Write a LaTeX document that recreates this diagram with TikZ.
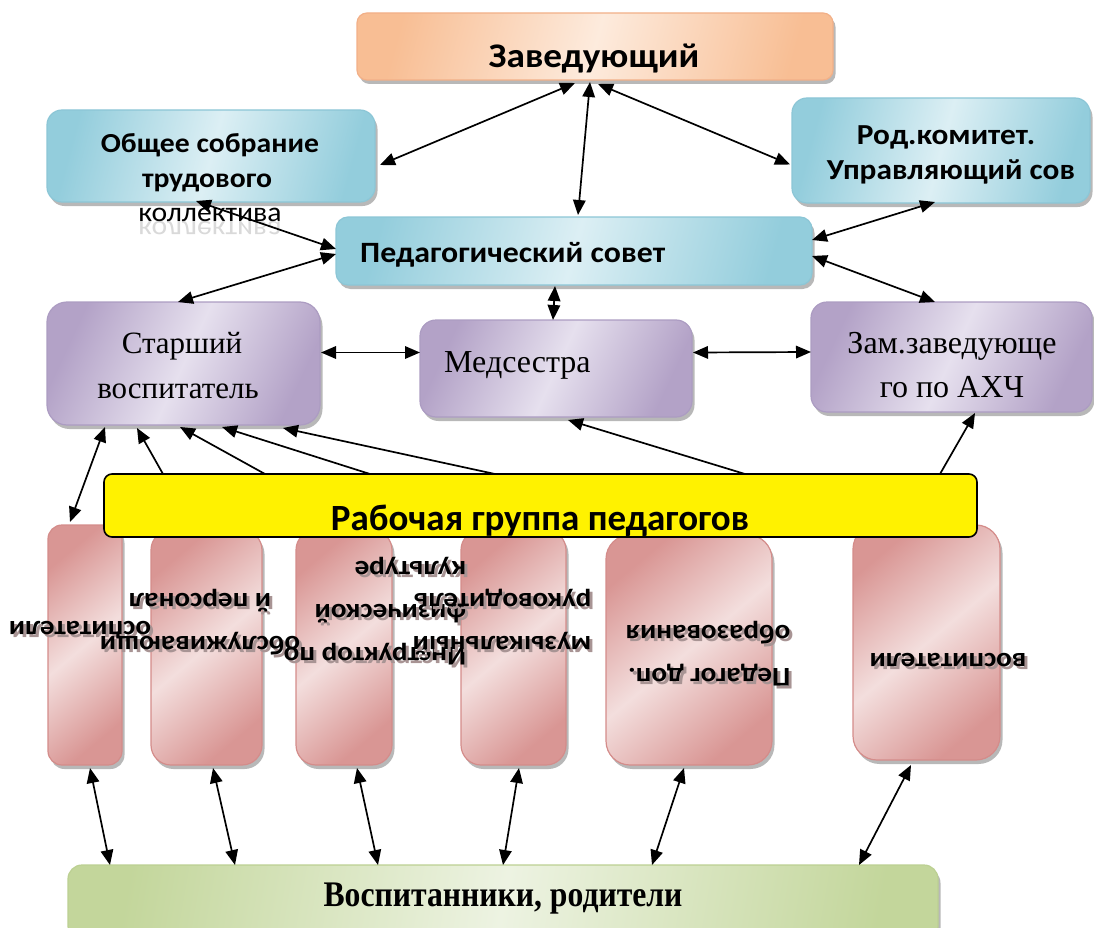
\documentclass[tikz,border=0pt]{standalone}
\usepackage{fontspec}
\setmainfont{Liberation Serif}
\newfontfamily\calw[FakeStretch=1.08]{Carlito}
\newfontfamily\calplain{Carlito}
\newfontfamily\serifc[FakeStretch=0.88]{Liberation Serif}
\usetikzlibrary{arrows.meta,shadows,calc}
\definecolor{orD}{HTML}{F8BE94}
\definecolor{orL}{HTML}{FDEBDD}
\definecolor{orB}{HTML}{F2B088}
\definecolor{blD}{HTML}{93CDDC}
\definecolor{blL}{HTML}{DCEFF4}
\definecolor{blB}{HTML}{8CC6D6}
\definecolor{puD}{HTML}{B3A2C7}
\definecolor{puL}{HTML}{E6E0EE}
\definecolor{puB}{HTML}{AC9CC2}
\definecolor{piD}{HTML}{D99694}
\definecolor{piL}{HTML}{F3DEDD}
\definecolor{piB}{HTML}{D48C8A}
\definecolor{grD}{HTML}{C3D69B}
\definecolor{grL}{HTML}{EDF3E2}
\definecolor{grB}{HTML}{BCD092}
\definecolor{pshc}{HTML}{A89494}
\newcommand\mybox[7]{\node[#2, rounded corners=#7, minimum width={#5-#3}, minimum height={#6-#4}] (#1) at ({(#3+#5)/2},{(#4+#6)/2}) {};}
\tikzset{
  bx/.style={inner sep=0pt, outer sep=0pt, line width=1.2pt,
    drop shadow={shadow xshift=2.5pt, shadow yshift=-4pt, fill=black, opacity=0.28}},
  orbox/.style={bx, draw=orB, left color=orD, right color=orD, middle color=orL, shading angle=75},
  blbox/.style={bx, draw=blB, left color=blD, right color=blD, middle color=blL, shading angle=75},
  pubox/.style={bx, draw=puB, left color=puD, right color=puD, middle color=puL, shading angle=65},
  pibox/.style={bx, draw=piB, left color=piD, right color=piD, middle color=piL, shading angle=40},
  grbox/.style={bx, draw=grB, left color=grD, right color=grD, middle color=grL, shading angle=80},
  yelbox/.style={inner sep=0pt, outer sep=0pt, draw=black, line width=1.6pt, fill=yellow},
  tip/.tip={Triangle[length=15pt,width=12.5pt]},
  darr/.style={tip-tip, line width=1.7pt},
  sarr/.style={-tip, line width=1.7pt},
  bs/.style={inner sep=0pt, anchor=base, font=\calw\bfseries\fontsize{#1}{#1}\selectfont},
  sr/.style={inner sep=0pt, anchor=base, font=\fontsize{#1}{#1}\selectfont},
  ptxt/.style={inner sep=0pt, rotate=180, font=\calw\bfseries\fontsize{27}{43}\selectfont},
  psh/.style={ptxt, text=pshc},
}
\begin{document}
\begin{tikzpicture}[x=1pt,y=-1pt]
\useasboundingbox (0,0) rectangle (1094,928);
\clip (0,0) rectangle (1094,928);
% boxes
\mybox{zav}{orbox}{357}{13}{833}{80}{10pt}
\mybox{obs}{blbox}{47}{110}{375}{202}{15pt}
\mybox{rod}{blbox}{792}{98}{1090}{203}{15pt}
\mybox{ped}{blbox}{336}{217}{812}{285}{12pt}
\mybox{star}{pubox}{47}{302}{320}{425}{20pt}
\mybox{med}{pubox}{420}{320}{692}{417}{16pt}
\mybox{zam}{pubox}{811}{302}{1092}{412}{16pt}
\mybox{p1}{pibox}{48}{525}{122}{765}{14pt}
\mybox{p2}{pibox}{151}{530}{262}{765}{20pt}
\mybox{p3}{pibox}{296}{530}{392}{765}{20pt}
\mybox{p4}{pibox}{461}{530}{566}{765}{20pt}
\mybox{p5}{pibox}{606}{535}{772}{765}{24pt}
\mybox{p6}{pibox}{853}{525}{1000}{760}{24pt}
\mybox{yel}{yelbox}{104}{474}{977}{537}{8pt}
\mybox{gr}{grbox}{68}{865}{938}{940}{14pt}
% texts
\node[bs=34.5] (tzav) at (594,68) {Заведующий};
\node[bs=27.5] (tobs1) at (210,153) {Общее собрание};
\node[bs=27.5] (tobs2) at (207,187) {трудового};
\node[inner sep=0pt, anchor=base, font=\calw\fontsize{27.5}{27.5}\selectfont] (tobs3) at (210,222) {коллектива};
\node[inner sep=0pt, anchor=base, yscale=-1, transform shape, opacity=0.3, text=gray, font=\calw\fontsize{27.5}{27.5}\selectfont] (tobs3r) at (210,222) {коллектива};
\node[bs=29] (trod1) at (946,145) {Род.комитет.};
\node[bs=29] (trod2) at (951,180) {Управляющий сов};
\node[bs=29.5, anchor=base west] (tped) at (360,262) {Педагогический совет};
\node[sr=31] (tstar1) at (182,353) {Старший};
\node[sr=31] (tstar2) at (178,398) {воспитатель};
\node[sr=32, anchor=base west] (tmed) at (444,372) {Медсестра};
\node[sr=32] (tzam1) at (952,353) {Зам.заведующе};
\node[sr=32] (tzam2) at (952,397) {го по АХЧ};
\node[inner sep=0pt, anchor=base, font=\calplain\bfseries\fontsize{37}{37}\selectfont] (tyel) at (540,530) {Рабочая группа педагогов};
\node[inner sep=0pt, anchor=base, font=\serifc\bfseries\fontsize{36}{36}\selectfont] (tgr) at (503,906) {Воспитанники, родители};
% pink texts (upside down) with shadows
\node[psh] (s1) at (83,631) {оспитатели};
\node[ptxt] (t1) at (80,628) {оспитатели};
\node[psh, align=center] (s2) at (203,625) {обслуживающи\\й персонал};
\node[ptxt, align=center] (t2) at (200,622) {обслуживающи\\й персонал};
\node[psh, align=left] (s3) at (378,614) {Инструктор по\\физической\\культуре};
\node[ptxt, align=left] (t3) at (375,611) {Инструктор по\\физической\\культуре};
\node[psh, align=left] (s4) at (505,625) {музыкальный\\руководитель};
\node[ptxt, align=left] (t4) at (502,622) {музыкальный\\руководитель};
\node[psh, align=left] (s5) at (711,657) {Педагог доп.\\образования};
\node[ptxt, align=left] (t5) at (708,654) {Педагог доп.\\образования};
\node[psh] (s6) at (951,663) {воспитатели};
\node[ptxt] (t6) at (948,660) {воспитатели};
% connectors
\draw[darr] ($(zav.south west)+(218,3)$) -- ($(obs.east)+(5,9)$);
\draw[darr] ($(zav.south west)+(233,2)$) -- ($(ped.north west)+(242,-2)$);
\draw[darr] ($(zav.south west)+(241,4)$) -- ($(rod.west)+(-2,14)$);
\draw[darr] ($(obs.south west)+(149,-1)$) -- ($(ped.west)+(0,-2)$);
\draw[darr] ($(ped.west)+(0,3)$) -- ($(star.north west)+(131,0)$);
\draw[darr] ($(ped.east)+(0,-11)$) -- ($(rod.south west)+(143,-1)$);
\draw[darr] ($(ped.east)+(0,5)$) -- ($(zam.north west)+(124,0)$);
\draw[darr] ($(ped.south west)+(219,1)$) -- ($(med.north west)+(133,0)$);
\draw[darr] ($(star.east)+(1,-11)$) -- ($(med.west)+(0,-16)$);
\draw[darr] ($(med.east)+(1,-16)$) -- ($(zam.west)+(0,-5)$);
\draw[darr] ($(p1.north west)+(22,-3)$) -- ($(star.south west)+(58,2)$);
\draw[sarr] ($(yel.north west)+(59,0)$) -- ($(star.south west)+(90,3)$);
\draw[sarr] ($(yel.north west)+(161,0)$) -- ($(star.south west)+(133,2)$);
\draw[sarr] ($(yel.north west)+(266,0)$) -- ($(star.south west)+(175,2)$);
\draw[sarr] ($(yel.north west)+(391,0)$) -- ($(star.south west)+(236,3)$);
\draw[sarr] ($(yel.north west)+(641,0)$) -- ($(med.south west)+(148,3)$);
\draw[sarr] ($(yel.north west)+(836,0)$) -- ($(zam.south west)+(164,1)$);
\draw[darr] ($(p1.south west)+(42,3)$) -- ($(gr.north west)+(42,0)$);
\draw[darr] ($(p2.south west)+(62,3)$) -- ($(gr.north west)+(167,0)$);
\draw[darr] ($(p3.south west)+(61,3)$) -- ($(gr.north west)+(310,0)$);
\draw[darr] ($(p4.south west)+(58,3)$) -- ($(gr.north west)+(435,0)$);
\draw[darr] ($(p5.south west)+(78,3)$) -- ($(gr.north west)+(584,0)$);
\draw[darr] ($(p6.south west)+(58,5)$) -- ($(gr.north west)+(791,0)$);
\end{tikzpicture}
\end{document}
